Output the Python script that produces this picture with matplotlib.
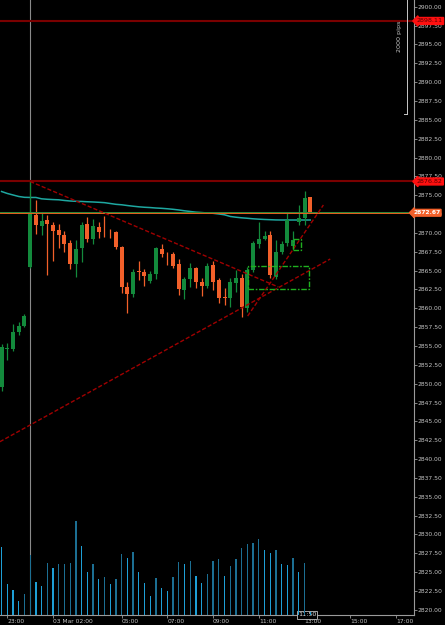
import numpy as np
import matplotlib
matplotlib.use("Agg")
import matplotlib.pyplot as plt
from matplotlib.patches import Rectangle
import matplotlib.transforms as mtransforms

# ---------------- data ----------------
bar_index = list(range(-1, 54))
opens  = [2849.6, 2854.6, 2854.6, 2856.8, 2857.65, 2865.5, 2872.37, 2870.85, 2871.7, 2871.05,
          2870.4, 2869.7, 2868.6, 2865.88, 2867.96, 2871.14, 2869.2, 2870.8, 2870.25, 2870.25,
          2870.08, 2868.17, 2862.87, 2861.86, 2864.9, 2864.85, 2863.6, 2864.5, 2867.87, 2867.25,
          2867.2, 2865.88, 2862.43, 2863.85, 2865.3, 2863.5, 2863.0, 2865.74, 2863.7, 2861.45,
          2861.33, 2863.3, 2864.06, 2860.0, 2865.08, 2868.5, 2869.2, 2869.72, 2864.2, 2867.5,
          2868.6, 2868.3, 2871.5, 2871.95, 2874.7]
highs  = [2855.2, 2855.4, 2857.9, 2858.2, 2859.3, 2876.82, 2874.35, 2872.8, 2872.37, 2871.5,
          2871.14, 2870.2, 2869.06, 2869.06, 2871.5, 2872.07, 2871.9, 2871.5, 2872.2, 2870.5,
          2870.2, 2868.3, 2863.45, 2865.2, 2866.3, 2865.2, 2865.0, 2868.17, 2868.5, 2867.5,
          2867.5, 2866.54, 2864.1, 2865.97, 2865.5, 2863.98, 2865.97, 2866.3, 2863.98, 2862.66,
          2864.06, 2865.08, 2864.6, 2865.5, 2868.9, 2871.5, 2870.25, 2870.2, 2869.0, 2868.9,
          2872.6, 2870.3, 2873.7, 2875.56, 2874.8]
lows   = [2849.0, 2853.1, 2854.4, 2856.5, 2857.5, 2865.3, 2869.8, 2869.7, 2864.4, 2866.3,
          2867.96, 2867.5, 2865.2, 2864.2, 2866.2, 2868.75, 2868.5, 2869.3, 2869.4, 2869.3,
          2867.87, 2861.98, 2859.33, 2861.54, 2863.75, 2863.0, 2863.3, 2863.85, 2866.85, 2865.74,
          2865.4, 2861.8, 2861.23, 2862.87, 2862.66, 2861.67, 2862.66, 2862.43, 2860.66, 2860.44,
          2860.22, 2862.2, 2858.9, 2859.5, 2864.77, 2867.96, 2869.0, 2864.06, 2863.9, 2867.2,
          2868.2, 2868.0, 2871.0, 2871.05, 2872.6]
closes = [2854.8, 2854.7, 2856.8, 2857.7, 2859.0, 2872.5, 2871.05, 2871.6, 2871.14, 2870.3,
          2869.7, 2868.5, 2865.88, 2867.8, 2871.05, 2869.2, 2870.9, 2870.1, 2870.2, 2870.2,
          2868.1, 2862.87, 2861.86, 2864.85, 2864.85, 2864.28, 2864.5, 2867.96, 2867.16, 2867.2,
          2865.6, 2862.56, 2863.85, 2865.3, 2863.45, 2863.0, 2865.66, 2863.5, 2861.4, 2861.4,
          2863.45, 2863.98, 2860.22, 2865.08, 2868.6, 2869.2, 2869.64, 2864.42, 2867.5, 2868.5,
          2871.7, 2869.1, 2871.95, 2874.6, 2872.67]
volumes = [683, 310, 250, 143, 207, 600, 330, 293, 520, 470,
           510, 513, 520, 940, 690, 430, 510, 363, 377, 307,
           363, 610, 570, 633, 433, 323, 190, 370, 267, 237,
           380, 530, 510, 537, 387, 323, 413, 537, 557, 393,
           487, 563, 673, 710, 723, 763, 650, 623, 650, 510,
           500, 570, 433, 523, 30]
ma_values = [2875.49, 2875.23, 2875.03, 2874.83, 2874.72, 2874.7, 2874.7, 2874.52, 2874.46, 2874.42,
             2874.39, 2874.3, 2874.23, 2874.19, 2874.17, 2874.13, 2874.1, 2874.06, 2874.01, 2873.9,
             2873.79, 2873.73, 2873.63, 2873.54, 2873.46, 2873.4, 2873.36, 2873.3, 2873.26, 2873.2,
             2873.13, 2873.04, 2872.93, 2872.84, 2872.75, 2872.7, 2872.64, 2872.6, 2872.51, 2872.4,
             2872.18, 2872.08, 2872.0, 2871.94, 2871.87, 2871.82, 2871.78, 2871.75, 2871.72, 2871.71,
             2871.71, 2871.71, 2871.71, 2871.71, 2871.71]

time_tick_index = [0, 8, 20, 28, 36, 44, 52, 60, 68]
time_tick_labels = ['23:00', '03 Mar 02:00', '05:00', '07:00', '09:00', '11:00', '13:00', '15:00', '17:00']

hline_levels = [2898.11, 2876.82]
current_price = 2872.67
crosshair_index = 4
crosshair_time = '11:50'
# trend lines: (index, price) pairs
trend_down = [(4, 2876.82), (47.4, 2862.83)]
trend_up_lower = [(-1.3, 2842.3), (56.5, 2866.54)]
trend_up_steep = [(42.05, 2858.97), (55.3, 2873.7)]
# rectangles: (index0, index1, price_low, price_high)
rects = [(42.05, 52.85, 2862.6, 2865.61), (49.9, 51.3, 2867.73, 2869.15)]

# ---------------- style ----------------
BG = 'black'
UP = '#138a3c'
DN = '#f2602a'
TXT = '#c4c4c4'
FS = 4.3
plt.rcParams['font.family'] = ['DejaVu Sans']

fig = plt.figure(figsize=(4.45, 6.25), dpi=100, facecolor=BG)
ax = fig.add_axes([0.0, 10 / 625, 414 / 445, 615 / 625])
ax.set_facecolor(BG)

x = np.array(bar_index, dtype=float)
o = np.array(opens); h = np.array(highs); l = np.array(lows); c = np.array(closes)
colors = [UP if cc >= oo else DN for oo, cc in zip(o, c)]

# crosshair vertical line
ax.axvline(crosshair_index, color='#8a8a8a', lw=0.8, zorder=1)

# horizontal levels
for lv in hline_levels:
    ax.axhline(lv, color='#7a0000', lw=1.5, zorder=2)

# moving average
ax.plot(x, ma_values, color='#1ea7a0', lw=1.1, zorder=3)

# candles
ax.vlines(x, l, h, colors=colors, lw=0.9, zorder=4)
body_bottom = np.minimum(o, c)
body_height = np.maximum(np.abs(c - o), 0.06)
ax.bar(x, body_height, bottom=body_bottom, width=0.7, color=colors, zorder=5, linewidth=0)

# current price lines
ax.axhline(current_price + 0.06, color='#2e8b3e', lw=0.7, zorder=6)
ax.axhline(current_price - 0.05, color='#e8601c', lw=0.7, zorder=6)

# trend lines
for seg in (trend_down, trend_up_lower, trend_up_steep):
    (x0, y0), (x1, y1) = seg
    ax.plot([x0, x1], [y0, y1], color='#a00000', lw=1.0, ls=(0, (3, 1.5)), zorder=7)

# rectangles
for (i0, i1, p0, p1) in rects:
    ax.add_patch(Rectangle((i0, p0), i1 - i0, p1 - p0, fill=False, edgecolor='#1fb01f',
                           lw=1.0, ls=(0, (4, 1.2, 1.2, 1.2)), zorder=8))

# axes limits
ax.set_xlim(-1.277, 71.15)
ax.set_ylim(2819.32, 2900.89)

# volumes on a twin axis
ax2 = ax.twinx()
vol = np.array(volumes)
vcol = ['#1c6f93' if i > 0 and vol[i] > vol[i - 1] else '#1e9fd6' for i in range(len(vol))]
ax2.bar(x, vol, width=0.22, color=vcol, linewidth=0, zorder=2)
ax2.set_ylim(0, 6150)
ax2.set_yticks([])
for s in ax2.spines.values():
    s.set_visible(False)

# spines & ticks
for s in ['top', 'left']:
    ax.spines[s].set_visible(False)
ax.spines['right'].set_color('#9a9a9a')
ax.spines['bottom'].set_color('#9a9a9a')
ax.spines['right'].set_linewidth(0.8)
ax.spines['bottom'].set_linewidth(0.8)

yt = np.arange(2820, 2900.01, 2.5)
ax.yaxis.tick_right()
ax.set_yticks(yt)
ax.set_yticklabels([f'{v:.2f}' for v in yt])
ax.tick_params(axis='y', colors='#9a9a9a', labelcolor=TXT, labelsize=FS, length=2, width=0.6, pad=0.6)

ax.set_xticks(time_tick_index)
ax.set_xticklabels(time_tick_labels, ha='left')
ax.tick_params(axis='x', colors='#9a9a9a', labelcolor=TXT, labelsize=FS, length=2, width=0.6, pad=0.8)

# price labels on right
tr = mtransforms.blended_transform_factory(ax.transAxes, ax.transData)
for lv in hline_levels:
    ax.text(416.5 / 414, lv, f'{lv:.2f}', transform=tr, ha='left', va='center', fontsize=FS + 0.3,
            color='#5a0000', zorder=20, clip_on=False,
            bbox=dict(boxstyle='larrow,pad=0.15', fc='#ff1010', ec='#ff1010'))
ax.text(413 / 414, current_price, f'{current_price:.2f}', transform=tr, ha='left', va='center',
        fontsize=FS, color='white', fontweight='bold', zorder=20, clip_on=False,
        bbox=dict(boxstyle='larrow,pad=0.15', fc='#f2602a', ec='#f2602a'))

# "2000 pips" bracket (axes fraction coordinates)
bx = 406.7 / 414
by_bot = (615 - 114) / 615
ax.plot([bx, bx], [1.0, by_bot], transform=ax.transAxes, color='#c8c8c8', lw=0.7, clip_on=False, zorder=15)
ax.plot([bx - 3 / 414, bx], [by_bot, by_bot], transform=ax.transAxes, color='#c8c8c8', lw=0.7, zorder=15)
ax.text(400 / 414, (615 - 36.5) / 615, '2000 pips', transform=ax.transAxes, rotation=90,
        ha='center', va='center', fontsize=FS + 0.3, color=TXT, zorder=15)

# crosshair time label at bottom
ax.text(307 / 414, 0.0, crosshair_time, transform=ax.transAxes, ha='center', va='center', fontsize=FS + 0.3,
        color='#e0e0e0', zorder=25, clip_on=False,
        bbox=dict(boxstyle='square,pad=0.2', fc='black', ec='#c0c0c0', lw=0.6))

fig.savefig('out.png', dpi=100, facecolor=BG)
